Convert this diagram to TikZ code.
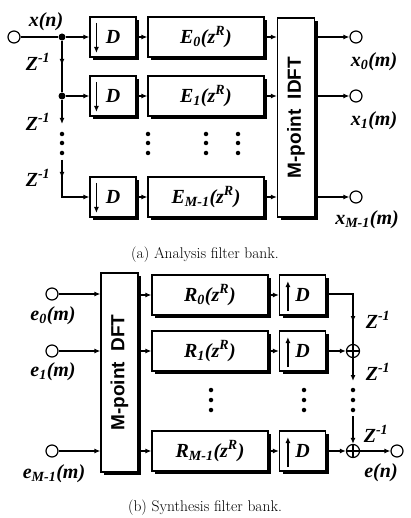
\documentclass[tikz,border=0pt]{standalone}
\usepackage{fontspec}
\newfontfamily\lblserif{Liberation Serif}
\newfontfamily\lblsans{Liberation Sans}
\usetikzlibrary{arrows.meta,shadows,calc}
\tikzset{
  wire/.style={line width=1.2pt},
  blk/.style={draw, line width=1.2pt, fill=white, inner sep=0pt,
    font=\lblserif\bfseries\itshape\fontsize{20}{23}\selectfont,
    drop shadow={shadow xshift=3pt, shadow yshift=-3pt, fill=black, opacity=1}},
  dbox/.style={blk, minimum width=46pt, minimum height=40pt},
  ebox/.style={blk, minimum width=116pt, minimum height=40pt},
  fbox/.style={blk, minimum width=37pt, minimum height=199pt},
  ftxt/.style={font=\lblsans\bfseries\fontsize{19}{22}\selectfont, rotate=90, inner sep=0pt},
  port/.style={circle, draw, line width=1.2pt, minimum size=12pt, inner sep=0pt},
  jdot/.style={circle, fill, minimum size=7pt, inner sep=0pt},
  sdot/.style={circle, fill, minimum size=4.5pt, inner sep=0pt},
  sumnode/.style={circle, draw, line width=1.2pt, minimum size=13pt, inner sep=0pt,
    path picture={\draw[line width=1.2pt] (path picture bounding box.north) -- (path picture bounding box.south)
      (path picture bounding box.west) -- (path picture bounding box.east);}},
  lbl/.style={font=\lblserif\bfseries\itshape\fontsize{20}{23}\selectfont, inner sep=0pt},
  captxt/.style={font=\fontsize{15.5}{18}\selectfont, inner sep=0pt},
  >={Latex[length=6pt,width=5pt]}
}
\begin{document}
\begin{tikzpicture}[x=1pt,y=-1pt]
\useasboundingbox (0,0) rectangle (410,518);

% analysis bank
\node[port] (xin) at (14,37) {};
\node[lbl] (xn) at (46,22) {x(n)};
\node[jdot] (j0) at (62,37) {};
\node[jdot] (j1) at (62,96) {};
\coordinate (t2) at (62,160);
\coordinate (c2) at (62,197);

\node[dbox] (d0) at (113,37) {D};
\node[dbox] (d1) at (113,96) {D};
\node[dbox] (d2) at (113,197) {D};
\foreach \n in {d0,d1,d2}
  \draw[wire,->] ($(\n.west)+(7,-14)$) -- ($(\n.west)+(7,16)$);

\node[ebox] (e0) at (206,37) {E\textsubscript{0}(z\textsuperscript{R})};
\node[ebox] (e1) at (206,96) {E\textsubscript{1}(z\textsuperscript{R})};
\node[ebox] (e2) at (206,197) {E\textsubscript{M-1}(z\textsuperscript{R})};

\node[fbox] (idft) at (296,117.5) {};
\node[ftxt] (idftlbl) at (idft) {M-point\ \ IDFT};

\node[port] (o0) at (356,37) {};
\node[port] (o1) at (356,96) {};
\node[port] (o2) at (356,197) {};
\node[lbl] (o0lbl) at (374,62) {x\textsubscript{0}(m)};
\node[lbl] (o1lbl) at (374,121) {x\textsubscript{1}(m)};
\node[lbl] (o2lbl) at (367,220) {x\textsubscript{M-1}(m)};

\node[lbl] (za) at (38,62) {Z\textsuperscript{-1}};
\node[lbl] (zb) at (38,122) {Z\textsuperscript{-1}};
\node[lbl] (zc) at (38,178) {Z\textsuperscript{-1}};

\draw[wire] (xin) -- (j0);
\draw[wire,->] (j0) -- (d0.west);
\draw[wire,->] (j1) -- (d1.west);
\draw[wire] (j0) -- (j1);
\draw[wire,->] (j0) -- ++(0,28);
\draw[wire,->] (j1) -- ++(0,28);
\draw[wire,->] (t2) -- ++(0,18);
\draw[wire,->] (t2) -- (c2) -- (d2.west);
\foreach \n in {0,1,2} {
  \draw[wire,->] (d\n) -- (e\n);
  \draw[wire,->] (e\n) -- (idft.west |- e\n);
  \draw[wire,->] (idft.east |- o\n) -- (o\n);
}
\foreach \x in {62,148,206,238}
  \foreach \y in {134,143,153}
    \node[sdot] at (\x,\y) {};

\node[captxt] (capa) at (205,255) {(a) Analysis filter bank.};

% synthesis bank
\node[port] (i0) at (52,294) {};
\node[port] (i1) at (52,351) {};
\node[port] (i2) at (52,451) {};
\node[lbl] (i0lbl) at (53,316) {e\textsubscript{0}(m)};
\node[lbl] (i1lbl) at (53,372) {e\textsubscript{1}(m)};
\node[lbl] (i2lbl) at (54,474) {e\textsubscript{M-1}(m)};

\node[fbox] (dft) at (119.5,372.5) {};
\node[ftxt] (dftlbl) at (dft) {M-point\ \ DFT};

\node[ebox] (r0) at (210,295) {R\textsubscript{0}(z\textsuperscript{R})};
\node[ebox] (r1) at (210,351) {R\textsubscript{1}(z\textsuperscript{R})};
\node[ebox] (r2) at (210,451) {R\textsubscript{M-1}(z\textsuperscript{R})};

\node[dbox] (u0) at (302.5,295) {D};
\node[dbox] (u1) at (302.5,351) {D};
\node[dbox] (u2) at (302.5,451) {D};
\foreach \n in {u0,u1,u2}
  \draw[wire,->] ($(\n.west)+(9,16)$) -- ($(\n.west)+(9,-14)$);

\coordinate (k0) at (353,294);
\node[sumnode] (s1) at (353,351) {};
\node[sumnode] (s2) at (353,451) {};
\coordinate (t3) at (353,416);
\node[port] (eo) at (397,451) {};
\node[lbl] (enlbl) at (381,473) {e(n)};

\node[lbl] (zd) at (378,320) {Z\textsuperscript{-1}};
\node[lbl] (ze) at (378,372) {Z\textsuperscript{-1}};
\node[lbl] (zf) at (376,434) {Z\textsuperscript{-1}};

\foreach \n in {0,1,2} {
  \draw[wire,->] (i\n) -- (dft.west |- i\n);
  \draw[wire,->] (dft.east |- r\n) -- (r\n);
  \draw[wire,->] (r\n) -- (u\n);
}
\draw[wire] (u0.east |- k0) -- (k0) -- (s1);
\draw[wire,->] (k0) -- ++(0,28);
\draw[wire,->] (u1) -- (s1);
\draw[wire,->] (s1) -- ++(0,30);
\draw[wire,->] (t3) -- (s2);
\draw[wire,->] (u2) -- (s2);
\draw[wire,->] (s2) -- (eo);
\foreach \x in {211,304,353}
  \foreach \y in {390,400,410}
    \node[sdot] at (\x,\y) {};

\node[captxt] (capb) at (205,508) {(b) Synthesis filter bank.};
\end{tikzpicture}
\end{document}
